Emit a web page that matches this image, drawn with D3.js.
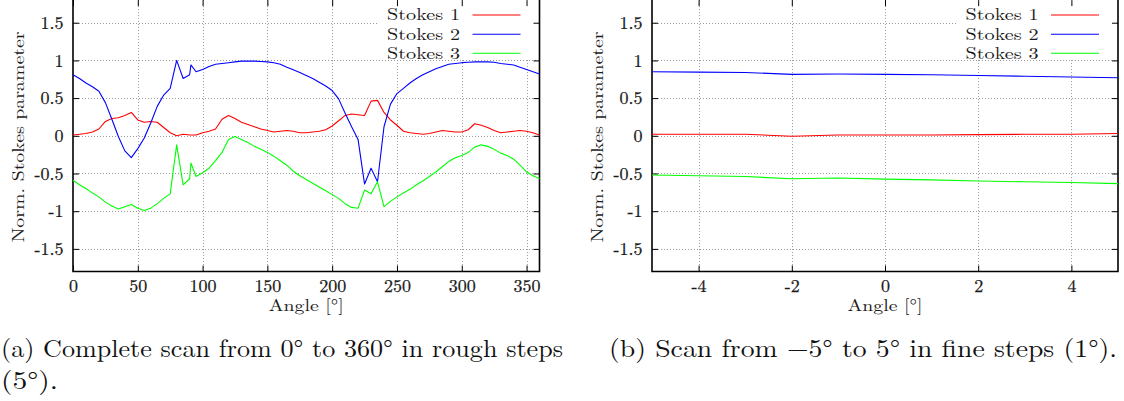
<!DOCTYPE html>
<html>
<head>
<meta charset="utf-8">
<script src="https://cdn.jsdelivr.net/npm/d3@7"></script>
<style>
  html, body { margin: 0; padding: 0; background: #fff; }
  svg { display: block; }
</style>
</head>
<body>
<svg id="fig" width="1124" height="401"></svg>
<script>
// ---- Measured Stokes parameters ----
// (a) full rotation scan, 5 degree steps (with one extra reading at 91 deg)
const anglesFull = [0,5,10,15,20,25,30,35,40,45,50,55,60,65,70,75,80,85,90,91,95,100,105,110,115,120,125,130,135,140,145,150,155,160,165,170,175,180,185,190,195,200,205,210,215,220,225,230,235,240,245,250,255,260,265,270,275,280,285,290,295,300,305,310,315,320,325,330,335,340,345,350,355,360];
const stokes1Full = [0.01,0.02,0.03,0.05,0.09,0.19,0.23,0.24,0.27,0.31,0.21,0.18,0.19,0.18,0.11,0.04,0.00,0.02,0.01,0.01,0.01,0.04,0.06,0.09,0.22,0.27,0.23,0.18,0.15,0.12,0.09,0.07,0.05,0.06,0.07,0.06,0.04,0.04,0.05,0.06,0.08,0.13,0.20,0.27,0.29,0.28,0.27,0.46,0.47,0.31,0.21,0.14,0.06,0.04,0.03,0.02,0.03,0.05,0.07,0.06,0.05,0.05,0.08,0.16,0.14,0.11,0.07,0.04,0.05,0.06,0.07,0.06,0.04,0.01];
const stokes2Full = [0.81,0.76,0.70,0.65,0.59,0.44,0.22,-0.01,-0.20,-0.29,-0.17,-0.03,0.17,0.39,0.54,0.63,1.00,0.76,0.81,0.94,0.85,0.88,0.92,0.95,0.96,0.97,0.98,0.99,0.99,0.99,0.985,0.98,0.97,0.95,0.91,0.875,0.84,0.80,0.76,0.71,0.66,0.60,0.49,0.30,0.12,-0.05,-0.64,-0.43,-0.61,0.12,0.42,0.56,0.63,0.70,0.76,0.81,0.85,0.89,0.92,0.95,0.96,0.97,0.975,0.98,0.98,0.98,0.975,0.96,0.95,0.94,0.91,0.88,0.85,0.82];
const stokes3Full = [-0.59,-0.65,-0.70,-0.76,-0.81,-0.88,-0.93,-0.97,-0.94,-0.91,-0.96,-0.99,-0.96,-0.90,-0.83,-0.77,-0.12,-0.65,-0.57,-0.36,-0.54,-0.49,-0.43,-0.33,-0.22,-0.05,-0.01,-0.05,-0.09,-0.14,-0.18,-0.22,-0.27,-0.33,-0.39,-0.47,-0.53,-0.58,-0.63,-0.68,-0.73,-0.78,-0.83,-0.90,-0.95,-0.96,-0.72,-0.77,-0.61,-0.94,-0.87,-0.81,-0.76,-0.71,-0.65,-0.60,-0.54,-0.48,-0.41,-0.34,-0.29,-0.26,-0.22,-0.15,-0.12,-0.14,-0.18,-0.23,-0.26,-0.31,-0.39,-0.48,-0.53,-0.57];

// (b) fine scan around zero, 1 degree steps
const anglesFine = [-5,-4,-3,-2,-1,0,1,2,3,4,5];
const stokes1Fine = [0.02,0.02,0.02,-0.005,0.01,0.01,0.01,0.015,0.02,0.02,0.03];
const stokes2Fine = [0.85,0.845,0.84,0.815,0.82,0.815,0.81,0.80,0.79,0.78,0.77];
const stokes3Fine = [-0.52,-0.53,-0.54,-0.57,-0.56,-0.575,-0.585,-0.60,-0.61,-0.62,-0.635];

// ---- Axis ticks, legend labels, captions ----
const yTicks = [-1.5,-1,-0.5,0,0.5,1,1.5];
const xTicksFull = [0,50,100,150,200,250,300,350];
const xTicksFine = [-4,-2,0,2,4];
const seriesNames = ["Stokes 1","Stokes 2","Stokes 3"];
const seriesColors = ["#ff0000","#0000ff","#00ff00"];
const yLabel = "Norm. Stokes parameter";
const xLabel = "Angle [°]";
const captionA = ["(a) Complete scan from 0° to 360° in rough steps", "(5°)."];
const captionB = "(b) Scan from −5° to 5° in fine steps (1°).";

// ---- font helpers ----
const measureCtx = document.createElement("canvas").getContext("2d");
function textWidth(font, size, str) {
  measureCtx.font = `${size}px ${font}`;
  return measureCtx.measureText(str).width;
}
// first installed face from a list; a name that falls back to a known sans/mono face is rejected
function firstInstalled(candidates, fallback) {
  const probe = "mmmmmmmmmlliWW0123456789.-[]Stokes";
  const known = ["monospace", "sans-serif", '"DejaVu Sans"', '"DejaVu Sans Mono"', '"Noto Sans"',
    '"Liberation Sans"', '"Liberation Mono"', '"Open Sans"', "Roboto", "Lato", "Inter"]
    .map(f => textWidth(f, 40, probe));
  for (const c of candidates) {
    const w = textWidth(`"${c}", monospace`, 40, probe);
    const w2 = textWidth(`"${c}", sans-serif`, 40, probe);
    if (w === w2 && !known.some(k => Math.abs(k - w) < 0.01)) return `"${c}"`;
  }
  return fallback;
}
// font size at which a string spans the given width
function sizeFor(font, str, width, lo, hi) {
  const s = width / textWidth(font, 100, str) * 100;
  return Math.max(lo, Math.min(hi, s));
}

// one serif face for the whole figure
const serif = firstInstalled(["Latin Modern Roman", "LM Roman 10", "CMU Serif", "Liberation Serif",
  "Tinos", "Times New Roman", "Noto Serif", "DejaVu Serif", "FreeSerif"], "serif");

const tickSize = sizeFor(serif, "-1.5", 29, 13, 19);
const labelSize = 16.5;
// plot labels are set in a wide face: keep their widths
const keyWidth = 73, xLabelWidth = 75, yLabelWidth = 211;

const svg = d3.select("#fig");
const plotTop = 0.1, plotBottom = 271.5;
const ink = "#1a1a1a";

const yScale = d3.scaleLinear().domain([-1.8, 1.8]).range([plotBottom, plotTop]);

const inked = (sel, sw) => sel.attr("fill", ink).attr("stroke", sw ? ink : null)
  .attr("stroke-width", sw || null);
const widened = (sel, w) => sel.attr("textLength", w).attr("lengthAdjust", "spacingAndGlyphs");

function drawPanel(opt) {
  const x = d3.scaleLinear().domain(opt.domain).range([opt.x0, opt.x1]);
  const g = svg.append("g");

  // dotted grid
  const grid = g.append("g").attr("stroke", "#9a9a9a").attr("stroke-width", 1)
    .attr("stroke-dasharray", "1 2");
  grid.selectAll("line.h").data(yTicks).join("line").attr("class", "h")
    .attr("x1", opt.x0).attr("x2", opt.x1)
    .attr("y1", d => Math.round(yScale(d)) + 0.5).attr("y2", d => Math.round(yScale(d)) + 0.5);
  grid.selectAll("line.v").data(opt.xTicks.filter(t => t > opt.domain[0] && t < opt.domain[1]))
    .join("line").attr("class", "v")
    .attr("x1", d => Math.round(x(d)) + 0.5).attr("x2", d => Math.round(x(d)) + 0.5)
    .attr("y1", plotTop).attr("y2", plotBottom);

  // opaque key box
  g.append("rect").attr("x", opt.x1 - 161).attr("y", -1).attr("width", 160).attr("height", 61)
    .attr("fill", "#fff");

  // axes with inward ticks
  const styleAxis = sel => {
    sel.attr("font-family", null).attr("font-size", null)
      .style("font-family", serif).style("font-size", tickSize + "px");
    sel.select(".domain").remove();
    sel.selectAll(".tick line").attr("stroke", "#000");
    sel.selectAll(".tick text").call(inked, 0.25);
  };
  g.append("g").attr("transform", `translate(0,${plotBottom})`)
    .call(d3.axisBottom(x).tickValues(opt.xTicks).tickSizeInner(-6).tickSizeOuter(0)
      .tickPadding(8).tickFormat(d => String(d)))
    .call(styleAxis);
  g.append("g").attr("transform", `translate(0,${plotTop})`)
    .call(d3.axisTop(x).tickValues(opt.xTicks).tickSizeInner(-6).tickSizeOuter(0).tickFormat(""))
    .call(styleAxis);
  g.append("g").attr("transform", `translate(${opt.x0},0)`)
    .call(d3.axisLeft(yScale).tickValues(yTicks).tickSizeInner(-6).tickSizeOuter(0)
      .tickPadding(9.5).tickFormat(d => String(d)))
    .call(styleAxis);
  g.append("g").attr("transform", `translate(${opt.x1},0)`)
    .call(d3.axisRight(yScale).tickValues(yTicks).tickSizeInner(-6).tickSizeOuter(0).tickFormat(""))
    .call(styleAxis);

  // frame
  g.append("path")
    .attr("d", `M${opt.x0},-2V${plotBottom}H${opt.x1}V-2`)
    .attr("fill", "none").attr("stroke", "#000").attr("stroke-width", 1.6);

  // curves
  const line = d3.line().x(d => x(d[0])).y(d => yScale(d[1]));
  opt.series.forEach((vals, i) => {
    g.append("path")
      .datum(opt.angles.map((a, j) => [a, vals[j]]))
      .attr("d", line)
      .attr("fill", "none").attr("stroke", seriesColors[i]).attr("stroke-width", 1.1)
      .attr("stroke-linejoin", "round");
  });

  // key
  const rows = [15, 34.2, 53.3];
  seriesNames.forEach((name, i) => {
    g.append("text").attr("x", opt.x1 - 79.5 - keyWidth).attr("y", rows[i]).attr("dy", "0.33em")
      .style("font-family", serif).style("font-size", labelSize + "px")
      .call(inked, 0).call(widened, keyWidth).text(name);
    g.append("line").attr("x1", opt.x1 - 67).attr("x2", opt.x1 - 19)
      .attr("y1", rows[i]).attr("y2", rows[i])
      .attr("stroke", seriesColors[i]).attr("stroke-width", 1.1);
  });

  // axis titles
  g.append("text").attr("x", (opt.x0 + opt.x1) / 2 - xLabelWidth / 2).attr("y", 306).attr("dy", "0.33em")
    .style("font-family", serif).style("font-size", labelSize + "px")
    .call(inked, 0).call(widened, xLabelWidth).text(xLabel);
  g.append("text").attr("transform", `translate(${opt.x0 - 54.5},137) rotate(-90)`)
    .attr("x", -yLabelWidth / 2).attr("dy", "0.33em").style("font-family", serif)
    .style("font-size", labelSize + "px").call(inked, 0).call(widened, yLabelWidth).text(yLabel);
}

drawPanel({ x0: 73, x1: 539.5, domain: [0, 360], xTicks: xTicksFull,
  angles: anglesFull, series: [stokes1Full, stokes2Full, stokes3Full] });
drawPanel({ x0: 652, x1: 1118, domain: [-5, 5], xTicks: xTicksFine,
  angles: anglesFine, series: [stokes1Fine, stokes2Fine, stokes3Fine] });

// sub-figure captions
function caption(txt, x, y, w) {
  svg.append("text").attr("x", x).attr("y", y).style("font-family", serif)
    .style("font-size", "25px").attr("fill", "#111")
    .call(widened, w).text(txt);
}
caption(captionA[0], 1, 357, 562);
caption(captionA[1], 1, 389, 57);
caption(captionB, 609, 357, 508);
</script>
</body>
</html>
